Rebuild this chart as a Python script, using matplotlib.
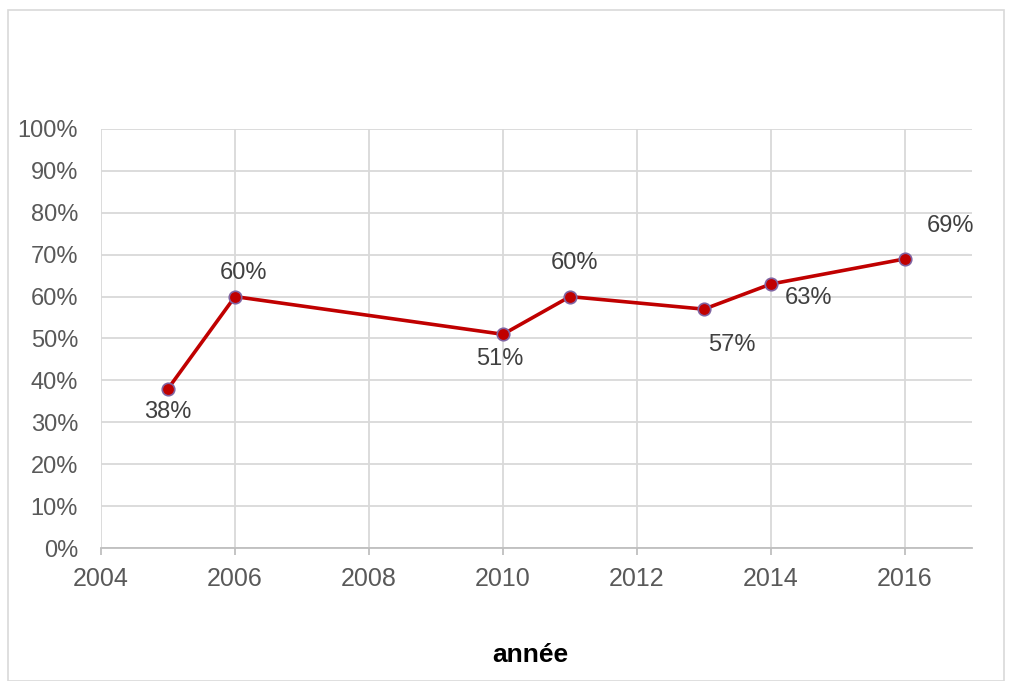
import matplotlib.pyplot as plt
from matplotlib.patches import Rectangle
from matplotlib.ticker import MultipleLocator, PercentFormatter

plt.rcParams['font.family'] = ['Liberation Sans', 'DejaVu Sans']

# data
years = [2005, 2006, 2010, 2011, 2013, 2014, 2016]
shares = [38, 60, 51, 60, 57, 63, 69]
# label offsets in points (dx, dy)
label_offsets = [(0, -17), (6, 17), (-2, -18), (3, 24), (20, -26), (27, -10), (33, 24)]

grid_col = '#d9d9d9'
text_col = '#595959'

fig = plt.figure(figsize=(10.11, 6.81), dpi=100)
ax = fig.add_axes([0.0999, 0.1953, 0.8615, 0.6153])

ax.plot(years, shares, color='#c00000', linewidth=2.6, marker='o', markersize=9,
        markerfacecolor='#c00000', markeredgecolor='#8064a2', markeredgewidth=1.2,
        zorder=3)

for x, y, (dx, dy) in zip(years, shares, label_offsets):
    ax.annotate(f'{y}%', (x, y), xytext=(dx, dy), textcoords='offset points',
                ha='center', va='center', fontsize=17, color='#404040')

ax.set_xlim(2004, 2017)
ax.set_ylim(0, 100)
ax.xaxis.set_major_locator(MultipleLocator(2))
ax.yaxis.set_major_locator(MultipleLocator(10))
ax.yaxis.set_major_formatter(PercentFormatter(decimals=0))

ax.grid(True, color=grid_col, linewidth=1.3)
ax.set_axisbelow(True)
for s in ['top', 'right', 'left']:
    ax.spines[s].set_visible(False)
ax.spines['bottom'].set_color('#bfbfbf')
ax.spines['bottom'].set_linewidth(1.3)

ax.tick_params(axis='x', colors='#bfbfbf', length=5, width=1.3, labelsize=18,
               labelcolor=text_col, pad=9)
ax.tick_params(axis='y', length=0, labelsize=17, labelcolor=text_col, pad=16.5)

fig.text(530 / 1011, 1 - 655 / 681, 'année', ha='center', va='center',
         fontsize=19, fontweight='bold', color='black')

fig.patches.append(Rectangle((8 / 1011, 0), 996 / 1011, 671 / 681,
                             transform=fig.transFigure, fill=False,
                             edgecolor='#d9d9d9', linewidth=1.2))

fig.savefig('out.png', dpi=100, facecolor='white')
